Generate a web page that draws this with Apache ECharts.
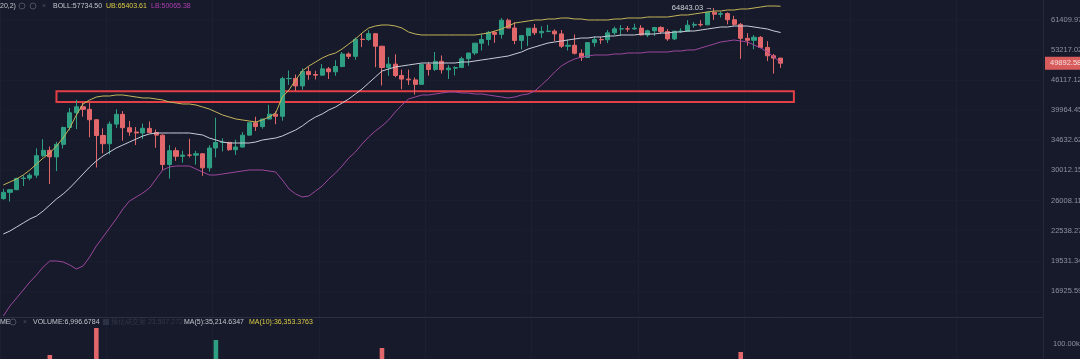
<!DOCTYPE html>
<html><head><meta charset="utf-8">
<script src="https://cdn.jsdelivr.net/npm/echarts@6/dist/echarts.min.js"></script>
<style>html,body{margin:0;padding:0;background:#161a2a;}#c{width:1080px;height:359px;}</style>
</head><body><div id="c"></div>
<script>
const dates = ['12-28','12-29','12-30','12-31',
'01-01','01-02','01-03','01-04','01-05','01-06','01-07','01-08','01-09','01-10','01-11','01-12','01-13','01-14','01-15','01-16','01-17','01-18','01-19','01-20','01-21','01-22','01-23','01-24','01-25','01-26','01-27','01-28','01-29','01-30','01-31',
'02-01','02-02','02-03','02-04','02-05','02-06','02-07','02-08','02-09','02-10','02-11','02-12','02-13','02-14','02-15','02-16','02-17','02-18','02-19','02-20','02-21','02-22','02-23','02-24','02-25','02-26','02-27','02-28',
'03-01','03-02','03-03','03-04','03-05','03-06','03-07','03-08','03-09','03-10','03-11','03-12','03-13','03-14','03-15','03-16','03-17','03-18','03-19','03-20','03-21','03-22','03-23','03-24','03-25','03-26','03-27','03-28','03-29','03-30','03-31',
'04-01','04-02','04-03','04-04','04-05','04-06','04-07','04-08','04-09','04-10','04-11','04-12','04-13','04-14','04-15','04-16','04-17','04-18','04-19','04-20','04-21','04-22','04-23','04-24'];
const emptySlots = 39;

const opens = [26239,27037,27376,28875,28923,29331,32176,33000,31989,33949,36770,39433,40586,40088,38150,35410,34049,37372,39141,36737,35994,35825,36623,35901,35468,30851,32950,32078,32260,32255,32465,30363,33368,34247,34262,33092,33518,35472,37620,36936,38290,39181,38795,46374,46420,44808,47968,47298,47156,48580,47911,49133,52117,51550,55906,55841,57413,54087,48891,49677,47057,46277,46104,45134,49595,48436,50349,48374,48747,48882,50960,52376,54874,55851,57773,57222,61188,58976,55606,56900,58912,57641,58030,58100,57351,54083,54343,52303,51293,55025,55817,55777,57635,58730,58740,58720,58950,57051,58202,59129,57991,55998,58088,58092,59778,59993,59860,63575,62960,63159,61334,60007,56150,55634,56425,53787,51690,51125];
const highs = [27500,27410,28996,29300,29600,33300,34778,33600,34360,36939,40365,41950,41380,41350,38264,36628,37850,40100,39747,37950,36852,37469,37850,36415,35600,33826,33456,32944,34875,32921,32557,33783,38531,34934,34342,34717,35984,37662,38708,38310,40955,39700,46794,48200,47310,48678,48985,48150,49707,49010,50620,52618,52530,56368,57505,58352,57533,54183,51374,52041,48394,48394,46638,49790,50200,52640,51773,49448,49200,51450,52402,54895,57387,58150,58081,61844,61683,60633,56938,58978,60097,59468,59880,58589,58430,55830,57200,53287,55073,56700,56559,58400,59368,59800,59490,60200,59791,58492,59251,59474,58650,58152,58894,61218,60657,61200,63777,64843.03,63800,63520,62500,60410,57526,57050,56757,55410,52130,51166];
const lows = [26101,25880,27320,27850,28624,28946,31962,28130,29900,33288,36300,36500,38720,35111,30420,32531,32380,36701,34538,35357,33850,34800,35844,33400,30071,28850,31390,31106,31900,30837,29241,29842,31915,32825,32930,32296,33418,35362,36161,36570,38215,37351,37988,45020,43728,43994,46125,46203,47014,46300,47003,48947,50901,50710,53863,55477,48967,44892,47003,46674,44106,45000,43000,45044,47047,48100,47500,46300,47070,48882,49274,51845,53005,54272,54962,56078,58963,54600,53271,54123,57023,56270,57820,55450,53650,53000,52000,50427,51280,53967,54691,54900,57068,56873,57935,58435,56959,56479,56788,57333,55473,55700,57630,57873,59016,59360,59800,61301,62020,60000,59580,50931,54222,53329,53696,50400,47500,48800];
const closes = [27037,27376,28875,28923,29331,32178,33000,31988,33949,36769,39432,40582,40088,38150,35404,34051,37371,39144,36742,35994,35828,36632,35891,35468,30850,32945,32078,32259,32254,32467,30366,33364,34252,34262,33092,33526,35466,37618,36936,38290,39186,38795,46374,46420,44807,47969,47287,47153,48577,47911,49133,52119,51552,55906,55841,57408,54087,48891,49676,47073,46276,46106,45135,49587,48440,50349,48374,48751,48882,50971,52375,54884,55851,57773,57221,61188,58968,55605,56900,58912,57648,58030,58102,57351,54083,54340,52303,51293,55025,55817,55777,57635,58746,58740,58720,58950,57051,58202,59129,57991,56000,58088,58091,59778,59993,59860,63576,62960,63160,61334,60006,56150,55633,56425,53787,51690,51125,49892.58];

const bollUpper = [27994,28394,28802,29354,30059,30927,31819,32584,33686,34988,
36689,39026,41117,41906,42504,42709,42709,42912,42912,42709,
42504,42306,42306,42105,41906,41510,41312,41117,41117,40923,
40536,40152,39585,39026,38657,38292,38111,37930,37751,38111,
38657,39397,42504,43943,46079,48089,49245,50188,51148,51884,
52377,53382,54664,55977,57592,58975,59539,59823,59823,59539,
58977,57868,57320,57050,57050,57050,57050,57050,57050,57050,
57050,57050,57320,57592,58143,58697,59539,60392,60681,60970,
61260,61260,61551,61551,61844,61844,61551,61551,61260,61260,
61260,61260,61551,61551,61844,61844,61844,62138,62138,62138,
62138,62434,62731,62731,63030,63330,63631,63934,63934,64238,
64238,64544,64544,64851,65160,65470,65470,65403.61];
const bollMid = [22185,22503,22933,23373,23821,24163,24743,25458,26194,26823,
27597,28530,29493,30490,31371,32124,32741,33367,33846,34332,
34823,35324,35660,35829,35829,35829,35829,35829,35829,35660,
35492,34988,34659,34332,34168,34168,34168,34168,34332,34659,
34823,34988,35324,35829,36344,37041,37930,38657,39211,39963,
40536,41312,42105,43115,44151,45426,46739,48089,48547,49011,
49245,49479,49714,49949,49949,49949,49949,49949,49949,50188,
50188,50427,50667,50907,51148,51393,51638,52130,52628,53382,
53892,54406,54923,55186,55448,55712,55977,56242,56242,56511,
56511,56780,56780,57050,57050,57050,57320,57320,57320,57592,
57592,57868,57868,58143,58143,58420,58697,58977,59255,59255,
59539,59539,59539,59255,58977,58697,58143,57734.50];
const bollLower = [15031,15762,16372,17006,17665,18261,18968,19516,19516,19424,
19149,18789,19058,19890,20956,21871,22825,23821,24979,25946,
26444,26950,27597,28802,30059,30490,30635,30635,30635,30201,
29775,29354,29354,29493,29633,29775,29916,30059,30059,30059,
29916,29775,28666,27467,26823,26444,26569,27207,27861,28802,
29633,30635,31819,32741,34006,35157,36172,37041,38111,39585,
40923,42105,42506,42912,42912,43115,43320,43528,43528,43320,
43320,43115,43115,42912,42709,42506,42306,42506,42912,43115,
43735,44998,46297,47861,49245,50188,50907,51393,51638,51884,
51884,51884,52130,52130,52377,52377,52377,52628,52628,52628,
52628,52878,52878,53130,53130,53635,54148,54664,55186,55448,
55712,55448,55186,54406,53635,52628,51393,50065.38];

const volumes = [45000,42000,50000,48000,35000,66000,60000,
78000,62000,58000,64000,66000,40000,60000,
132000,64000,55000,58000,60000,38000,36000,
35000,40000,52000,66000,64000,30000,28000,
42000,40000,48000,52000,108000,40000,30000,
35000,38000,42000,45000,36000,45000,40000,
66000,58000,52000,54000,50000,38000,36000,
40000,44000,55000,42000,56000,58000,45000,
68000,92000,55000,50000,58000,34000,42000,
48000,40000,45000,46000,50000,30000,32000,
40000,42000,50000,46000,45000,52000,34000,
56000,50000,48000,42000,36000,28000,30000,
42000,40000,50000,52000,36000,25000,22000,
36000,34000,40000,30000,32000,30000,24000,
30000,28000,40000,30000,24000,32000,20000,
28000,42000,50000,20000,32000,28000,84000,
23540,38000,36500,45800,48776.6,6996.6784];

const priceTicks = [16925.59,19531.34,22538.27,26008.11,30012.15,34632.62,39964.45,46117.12,53217.02,61409.97];
const volumeTicks = [100000];
const priceMin = 14960, priceMax = 67360;
const volumeMin = 70000, volumeMax = 154000;
const lastPrice = 49892.58;
const athIndex = 107, athPrice = 64843.03;
const zoneStart = 8, zoneEnd = 119, zoneTop = 43700, zoneBottom = 41490;
const bollText = 'BOLL:57734.50', ubText = 'UB:65403.61', lbText = 'LB:50065.38';
const volText = 'VOLUME:6,996.6784', estText = '预估成交量 23,507.2721', ma5Text = 'MA(5):35,214.6347', ma10Text = 'MA(10):36,353.3763';

const UP = '#2f9f84', DOWN = '#e2676a';
const categories = dates.concat(Array.from({length: emptySlots}, (_, k) => 'n' + (k + 1)));
const FONT = '"Liberation Sans", Arial, sans-serif';
const gridLine = '#1b2031';

const chart = echarts.init(document.getElementById('c'), null, {renderer: 'canvas'});
function txt(x, y, text, fill) {
  return {type: 'text', x: x, y: y, silent: true, z: 100,
    style: {text: text, fill: fill, font: '7px ' + FONT, verticalAlign: 'middle', textVerticalAlign: 'middle'}};
}
function ring(cx, cy) {
  return {type: 'circle', silent: true, z: 100, shape: {cx: cx, cy: cy, r: 3}, style: {fill: 'none', stroke: '#4a4f62', lineWidth: 1}};
}
chart.setOption({
  animation: false,
  backgroundColor: '#161a2a',
  grid: [
    {left: 0, top: 0, width: 1043, height: 317, containLabel: false, outerBoundsMode: 'none'},
    {left: 0, top: 317, width: 1043, height: 42, containLabel: false, outerBoundsMode: 'none'}
  ],
  xAxis: [
    {type: 'category', gridIndex: 0, data: categories, boundaryGap: true,
     axisLine: {show: true, lineStyle: {color: '#2a2f42'}}, axisTick: {show: false}, axisLabel: {show: false},
     splitLine: {show: true, interval: 15, lineStyle: {color: gridLine, width: 1}}},
    {type: 'category', gridIndex: 1, data: categories, boundaryGap: true,
     axisLine: {show: false}, axisTick: {show: false}, axisLabel: {show: false},
     splitLine: {show: true, interval: 15, lineStyle: {color: gridLine, width: 1}}}
  ],
  yAxis: [
    {type: 'log', gridIndex: 0, position: 'right', min: priceMin, max: priceMax,
     axisLine: {show: true, lineStyle: {color: '#23283a'}},
     axisTick: {show: false, customValues: priceTicks},
     axisLabel: {customValues: priceTicks, margin: 8, color: '#8d91a0', fontSize: 7.5, fontFamily: FONT,
       formatter: v => v.toFixed(2)},
     splitLine: {show: true, lineStyle: {color: '#191e2e', width: 1}}},
    {type: 'value', gridIndex: 1, position: 'right', min: volumeMin, max: volumeMax,
     axisLine: {show: true, lineStyle: {color: '#23283a'}},
     axisTick: {show: false, customValues: volumeTicks},
     axisLabel: {customValues: volumeTicks, margin: 10, color: '#8d91a0', fontSize: 7.5, fontFamily: FONT,
       formatter: v => (v / 1000).toFixed(2) + 'k'},
     splitLine: {show: false}}
  ],
  series: [
    {type: 'candlestick', xAxisIndex: 0, yAxisIndex: 0, barWidth: 4.6, z: 2,
     data: dates.map((d, i) => [opens[i], closes[i], lows[i], highs[i]]),
     itemStyle: {color: UP, color0: DOWN, borderColor: UP, borderColor0: DOWN, borderWidth: 1},
     markLine: {silent: true, symbol: ['none', 'none'], animation: false,
       lineStyle: {color: 'rgba(0,0,0,0)', width: 1, type: 'solid'},
       label: {show: true, position: 'end', distance: 2, formatter: () => lastPrice.toFixed(2),
         backgroundColor: '#d95c5c', color: '#f6dede', padding: [3, 4, 2, 5], fontSize: 7.5, fontFamily: FONT},
       emphasis: {disabled: true},
       data: [{yAxis: lastPrice}]},
     markPoint: {silent: true, symbol: 'circle', symbolSize: 1, itemStyle: {color: 'rgba(0,0,0,0)'},
       label: {show: true, position: 'left', distance: 1, formatter: () => athPrice.toFixed(2) + ' →',
         color: '#d2d5de', fontSize: 7.5, fontFamily: FONT},
       data: [{coord: [athIndex, athPrice]}]},
     markArea: {silent: true,
       itemStyle: {color: 'rgba(0,0,0,0)', borderColor: '#e33f47', borderWidth: 2},
       data: [[{xAxis: zoneStart, yAxis: zoneTop}, {xAxis: zoneEnd, yAxis: zoneBottom}]]}},
    {type: 'line', name: 'UB', xAxisIndex: 0, yAxisIndex: 0, data: bollUpper, showSymbol: false, symbol: 'none', z: 3,
     lineStyle: {color: '#c4b55a', width: 1}},
    {type: 'line', name: 'BOLL', xAxisIndex: 0, yAxisIndex: 0, data: bollMid, showSymbol: false, symbol: 'none', z: 3,
     lineStyle: {color: '#c9cbd9', width: 1}},
    {type: 'line', name: 'LB', xAxisIndex: 0, yAxisIndex: 0, data: bollLower, showSymbol: false, symbol: 'none', z: 3,
     lineStyle: {color: '#9c479e', width: 1}},
    {type: 'bar', xAxisIndex: 1, yAxisIndex: 1, barWidth: 4.6, clip: true,
     data: volumes.map((v, i) => ({value: v, itemStyle: {color: closes[i] >= opens[i] ? UP : DOWN}}))}
  ],
  graphic: [
    txt(0, 6, '20,2)', '#c3c6cf'),
    ring(22, 6), ring(33, 6),
    txt(42, 6, '×', '#4a4f62'),
    txt(53, 6, bollText, '#c3c6cf'),
    txt(106, 6, ubText, '#dccb45'),
    txt(151, 6, lbText, '#b13fb3'),
    txt(0, 322, 'ME', '#c3c6cf'),
    ring(13, 322),
    txt(23, 322, '×', '#4a4f62'),
    txt(33, 322, volText, '#c3c6cf'),
    {type: 'rect', silent: true, z: 100, shape: {x: 103, y: 319, width: 6, height: 6}, style: {fill: '#2c3144'}},
    txt(111, 322, estText, '#34394c'),
    txt(184, 322, ma5Text, '#c3c6cf'),
    txt(249, 322, ma10Text, '#dccb45')
  ]
});
</script></body></html>
